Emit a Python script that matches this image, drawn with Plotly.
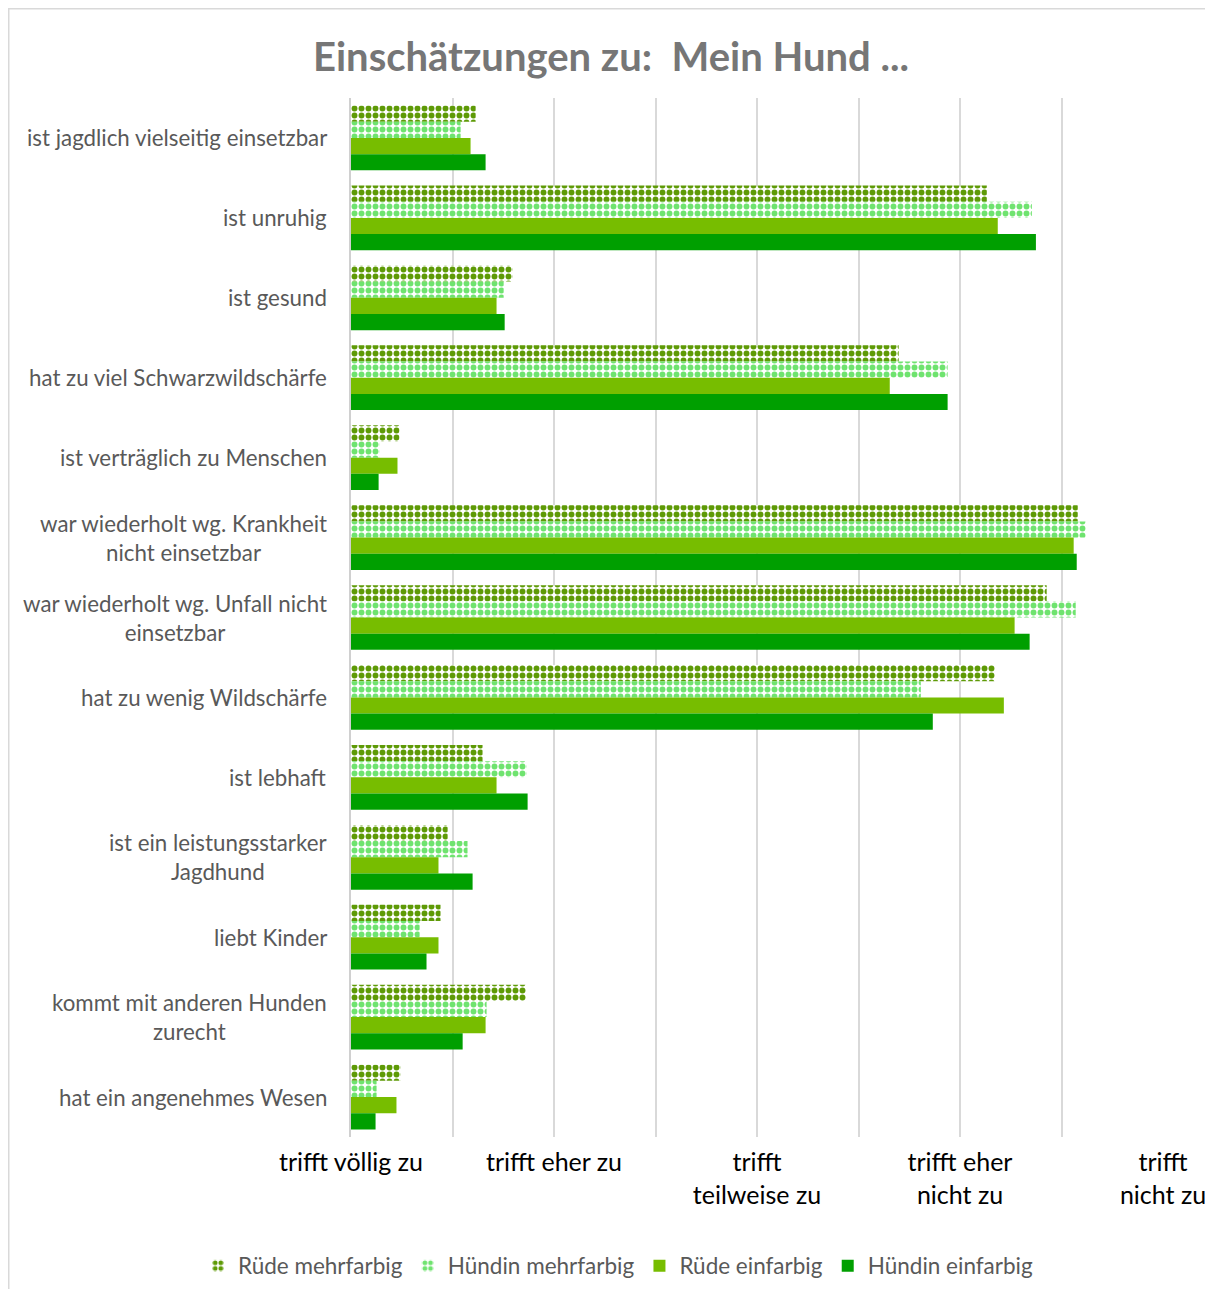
import plotly.graph_objects as go

categories = [
    "ist jagdlich vielseitig einsetzbar",
    "ist unruhig",
    "ist gesund",
    "hat zu viel Schwarzwildschärfe",
    "ist verträglich zu Menschen",
    "war wiederholt wg. Krankheit<br>nicht einsetzbar",
    "war wiederholt wg. Unfall nicht<br>einsetzbar",
    "hat zu wenig Wildschärfe",
    "ist lebhaft",
    "ist ein leistungsstarker<br>Jagdhund",
    "liebt Kinder",
    "kommt mit anderen Hunden<br>zurecht",
    "hat ein angenehmes Wesen",
]

ruede_mehrfarbig = [1.614, 4.132, 1.796, 3.698, 1.239, 4.580, 4.427, 4.172, 1.648, 1.476, 1.441, 1.862, 1.244]
huendin_mehrfarbig = [1.540, 4.354, 1.752, 3.939, 1.140, 4.620, 4.570, 3.807, 1.865, 1.574, 1.338, 1.668, 1.126]
ruede_einfarbig = [1.589, 4.186, 1.717, 3.654, 1.229, 4.560, 4.269, 4.216, 1.717, 1.431, 1.431, 1.663, 1.224]
huendin_einfarbig = [1.663, 4.374, 1.757, 3.939, 1.136, 4.575, 4.343, 3.866, 1.870, 1.599, 1.372, 1.550, 1.121]

tick_values = [1, 2, 3, 4, 5]
tick_labels = [
    "trifft völlig zu",
    "trifft eher zu",
    "trifft<br>teilweise zu",
    "trifft eher<br>nicht zu",
    "trifft<br>nicht zu",
]

series_names = ["Rüde mehrfarbig", "Hündin mehrfarbig", "Rüde einfarbig", "Hündin einfarbig"]
FONT = "Lato, 'Open Sans', sans-serif"

# page has an 8px body margin; keep the whole page inside the 1213x1297 window
W, H = 1197, 1281
L, T = 343, 90
PW, PH = 812, 1039
R, B = W - L - PW, H - T - PH

fig = go.Figure()

fig.add_trace(go.Bar(
    y=categories, x=ruede_mehrfarbig, orientation="h", name=series_names[0],
    marker=dict(color="white", line=dict(width=0),
                pattern=dict(shape=".", fgcolor="#5E9A06", bgcolor="white",
                             size=7, solidity=0.55, fillmode="replace")),
    base=0,
))
fig.add_trace(go.Bar(
    y=categories, x=huendin_mehrfarbig, orientation="h", name=series_names[1],
    marker=dict(color="white", line=dict(width=0),
                pattern=dict(shape=".", fgcolor="#6FE36F", bgcolor="white",
                             size=7, solidity=0.55, fillmode="replace")),
    base=0,
))
fig.add_trace(go.Bar(
    y=categories, x=ruede_einfarbig, orientation="h", name=series_names[2],
    marker=dict(color="#77BD00", line=dict(width=0)),
    base=0,
))
fig.add_trace(go.Bar(
    y=categories, x=huendin_einfarbig, orientation="h", name=series_names[3],
    marker=dict(color="#009F00", line=dict(width=0)),
    base=0,
))

# category labels as centered multi-line annotations, anchored at the axis
for c in categories:
    fig.add_annotation(
        x=0, xref="paper", xanchor="right", xshift=-22,
        y=c, yref="y", yanchor="middle",
        text=c, showarrow=False, align="center",
        font=dict(family=FONT, size=22.3, color="#595959"),
    )

fig.update_layout(
    width=W, height=H,
    paper_bgcolor="white", plot_bgcolor="white",
    margin=dict(l=L, r=R, t=T, b=B, autoexpand=False),
    barmode="group", bargap=0.19, bargroupgap=0,
    title=dict(text="Einschätzungen zu:\u00a0 Mein Hund ...", x=(611 - 8) / W, xref="container",
               xanchor="center", y=1 - 49 / H, yanchor="middle",
               font=dict(family=FONT, size=40, color="#767676", weight="bold")),
    xaxis=dict(range=[1, 5], tickvals=tick_values, ticktext=tick_labels,
               showgrid=True, gridcolor="#D9D9D9", gridwidth=2,
               minor=dict(dtick=0.5, tick0=1, showgrid=True, gridcolor="#D9D9D9", gridwidth=2),
               zeroline=False, showline=False, ticks="",
               ticklabelstandoff=8, ticklabeloverflow="allow",
               tickfont=dict(family=FONT, size=25, color="#000000")),
    yaxis=dict(autorange="reversed", showticklabels=False, showgrid=False,
               showline=True, linecolor="#D0D0D0", linewidth=2, ticks="", zeroline=False),
    legend=dict(orientation="h", x=(190 - L) / PW, xref="paper", xanchor="left",
                y=-(1266 - 8 - (T + PH)) / PH, yref="paper", yanchor="middle",
                bgcolor="rgba(0,0,0,0)",
                font=dict(family=FONT, size=22.5, color="#595959"),
                traceorder="normal", itemwidth=30),
    shapes=[dict(type="rect", xref="paper", yref="paper",
                 x0=(0.75 - L) / PW, x1=(W + 6 - L) / PW,
                 y0=-(B + 10) / PH, y1=1 + (T - 0.75) / PH,
                 line=dict(color="#D9D9D9", width=1.5), fillcolor="rgba(0,0,0,0)", layer="below")],
)

fig.write_html("out.html")
